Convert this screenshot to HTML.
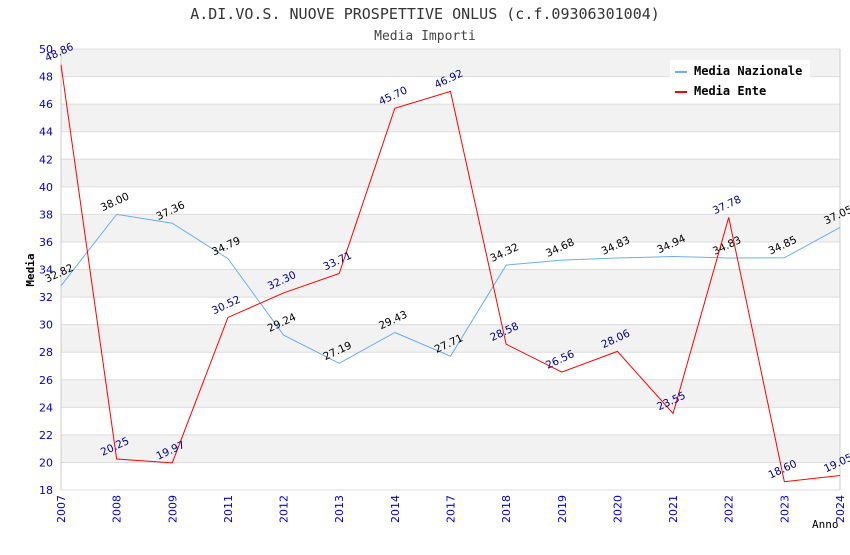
<!DOCTYPE html>
<html><head><meta charset="utf-8"><style>
body{margin:0;background:#fff}
svg text{font-family:"DejaVu Sans","Liberation Sans",sans-serif}
</style></head><body>
<svg id="chart" width="850" height="550" xmlns="http://www.w3.org/2000/svg">
<text x="425" y="19" text-anchor="middle" font-size="15" fill="#333" style="font-family:'DejaVu Sans Mono',monospace">A.DI.VO.S. NUOVE PROSPETTIVE ONLUS (c.f.09306301004)</text>
<text x="425" y="40" text-anchor="middle" font-size="13" fill="#444" style="font-family:'DejaVu Sans Mono',monospace">Media Importi</text>
<g id="grid"></g><g id="axes"></g><g id="series"></g>
<text x="34" y="270" text-anchor="middle" font-size="11" font-weight="bold" transform="rotate(-90 34 270)" style="font-family:'DejaVu Sans Mono',monospace">Media</text>
<text x="812" y="528" font-size="11" style="font-family:'DejaVu Sans Mono',monospace">Anno</text>
<g>
<rect x="670" y="60" width="140" height="42" fill="#fff"/>
<line x1="675" y1="72" x2="687" y2="72" stroke="#6aaeea" stroke-width="2"/>
<text x="694" y="75" font-size="12" font-weight="bold" style="font-family:'DejaVu Sans Mono',monospace">Media Nazionale</text>
<line x1="675" y1="92" x2="687" y2="92" stroke="#f00" stroke-width="2"/>
<text x="694" y="95" font-size="12" font-weight="bold" style="font-family:'DejaVu Sans Mono',monospace">Media Ente</text>
</g>
</svg>
<script>
const categories=["2007","2008","2009","2011","2012","2013","2014","2017","2018","2019","2020","2021","2022","2023","2024"];
const nazionale=[32.82,38.00,37.36,34.79,29.24,27.19,29.43,27.71,34.32,34.68,34.83,34.94,34.83,34.85,37.05];
const ente=[48.86,20.25,19.97,30.52,32.30,33.71,45.70,46.92,28.58,26.56,28.06,23.55,37.78,18.60,19.05];
const yTicks=[18,20,22,24,26,28,30,32,34,36,38,40,42,44,46,48,50];
const L=61,R=840,T=49,B=490,ymin=18,ymax=50;
const xs=i=>L+i*(R-L)/(categories.length-1);
const ys=v=>B-(v-ymin)/(ymax-ymin)*(B-T);
const NS="http://www.w3.org/2000/svg";
function mk(tag,attrs,parent,txt){const e=document.createElementNS(NS,tag);for(const k in attrs)e.setAttribute(k,attrs[k]);if(txt!=null)e.textContent=txt;parent.appendChild(e);return e;}
const grid=document.getElementById('grid'),axes=document.getElementById('axes'),ser=document.getElementById('series');
for(let k=0;k<yTicks.length-1;k++){
  if(k%2===1){const r=mk('rect',{x:L,y:ys(yTicks[k+1]),width:R-L,height:ys(yTicks[k])-ys(yTicks[k+1]),fill:'#f2f2f2'},grid);
  
  }
}
yTicks.forEach(t=>{
  const l=mk('line',{x1:L,x2:R,y1:ys(t),y2:ys(t),stroke:'#ddd'},grid);
  
  
  const tx=mk('text',{x:L-8,y:ys(t)+4,'text-anchor':'end','font-size':11,fill:'#00c'},axes,t);
  
  
});
mk('line',{x1:L,x2:L,y1:T,y2:B,stroke:'#ccc'},axes);
mk('line',{x1:R,x2:R,y1:T,y2:B,stroke:'#ccc'},axes);
categories.forEach((c,i)=>{
  const x=xs(i);
  const tx=mk('text',{x:x+4,y:B+5,'text-anchor':'end','font-size':11,fill:'#00c',transform:`rotate(-90 ${x+4} ${B+5})`},axes,c);
  
  
});
function series(vals,color,lblColor,name){
  const p=mk('polyline',{points:vals.map((v,i)=>xs(i)+','+ys(v)).join(' '),fill:'none',stroke:color,'stroke-width':1},ser);
  
  
  vals.forEach((v,i)=>{
    const x=xs(i)-14,y=ys(v)-3;
    const t=mk('text',{x:x,y:y,'font-size':10.5,fill:lblColor,transform:`rotate(-25 ${x} ${y})`},ser,v.toFixed(2));
    
    
  });
}
series(nazionale,'#6aaeea','#000','nazionale');
series(ente,'#f00','#008','ente');
</script>
</body></html>
